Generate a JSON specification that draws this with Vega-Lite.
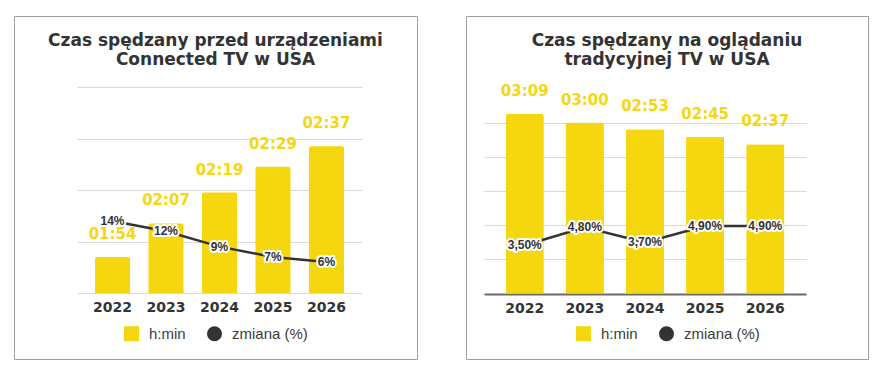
{
  "$schema": "https://vega.github.io/schema/vega-lite/v6.json",
  "padding": {"left": 13, "top": 15, "right": 0, "bottom": 0},
  "background": "white",
  "config": {"view": {"stroke": "#a0a0a0", "strokeWidth": 1}, "concat": {"spacing": 47}},
  "resolve": {"scale": {"color": "independent", "shape": "independent"}, "legend": {"color": "independent", "shape": "independent"}},
  "hconcat": [
    {
      "width": 403,
      "height": 343,
      "title": {"text": ["Czas spędzany przed urządzeniami", "Connected TV w USA"], "font": "DejaVu Sans", "fontWeight": "bold", "fontSize": 17, "color": "#333333", "lineHeight": 19, "anchor": "middle", "offset": -53},
      "data": {"values": [
        {"rok": "2022", "min": 114, "czas": "01:54", "pct": 14, "zmiana": "14%"},
        {"rok": "2023", "min": 127, "czas": "02:07", "pct": 12, "zmiana": "12%"},
        {"rok": "2024", "min": 139, "czas": "02:19", "pct": 9, "zmiana": "9%"},
        {"rok": "2025", "min": 149, "czas": "02:29", "pct": 7, "zmiana": "7%"},
        {"rok": "2026", "min": 157, "czas": "02:37", "pct": 6, "zmiana": "6%"}
      ]},
      "layer": [
        {
          "encoding": {
            "x": {"field": "rok", "type": "nominal", "scale": {"range": [63, 348], "paddingInner": 0.345, "paddingOuter": 0.337}, "axis": {"title": null, "domain": false, "ticks": false, "labelAngle": 0, "offset": -66, "labelPadding": 7, "labelFont": "DejaVu Sans", "labelFontWeight": "bold", "labelFontSize": 14, "labelColor": "#333333"}},
            "y": {"field": "min", "type": "quantitative", "scale": {"domain": [100, 180], "range": [277, 71], "nice": false, "zero": false}, "axis": {"title": null, "labels": false, "ticks": false, "domain": false, "values": [100, 120, 140, 160, 180], "gridColor": "#d9d9d9"}}
          },
          "layer": [
            {"mark": {"type": "bar", "color": "#F5D70F", "cornerRadiusTopLeft": 2, "cornerRadiusTopRight": 2}, "encoding": {"y2": {"datum": 100}}},
            {"mark": {"type": "text", "font": "DejaVu Sans", "fontWeight": "bold", "fontSize": 15, "color": "#F5D70F", "dy": -23, "baseline": "middle"}, "encoding": {"text": {"field": "czas"}}}
          ]
        },
        {
          "encoding": {
            "x": {"field": "rok", "type": "nominal"},
            "y": {"field": "pct", "type": "quantitative", "scale": {"domain": [0, 40], "range": [277, 71], "nice": false}, "axis": null}
          },
          "layer": [
            {"mark": {"type": "line", "color": "#333333", "strokeWidth": 2.5}},
            {"mark": {"type": "text", "font": "Liberation Sans", "fontWeight": "bold", "fontSize": 12, "fill": "white", "stroke": "white", "strokeWidth": 4, "strokeJoin": "round", "baseline": "middle"}, "encoding": {"text": {"field": "zmiana"}}},
            {"mark": {"type": "text", "font": "Liberation Sans", "fontWeight": "bold", "fontSize": 12, "color": "#333333", "baseline": "middle"}, "encoding": {"text": {"field": "zmiana"}}}
          ]
        },
        {
          "data": {"values": [{"seria": "h:min"}, {"seria": "zmiana (%)"}]},
          "mark": {"type": "point", "filled": true, "opacity": 0},
          "encoding": {
            "color": {"field": "seria", "type": "nominal", "scale": {"domain": ["h:min", "zmiana (%)"], "range": ["#F5D70F", "#333333"]}, "legend": {"title": null, "orient": "none", "legendX": 110, "legendY": 310, "direction": "horizontal", "symbolSize": 225, "symbolOpacity": 1, "symbolStrokeWidth": 0, "labelFont": "Liberation Sans", "labelFontSize": 15, "labelColor": "#3c3c3c", "columnPadding": 21, "labelOffset": 10, "padding": 0}},
            "shape": {"field": "seria", "type": "nominal", "scale": {"domain": ["h:min", "zmiana (%)"], "range": ["square", "circle"]}, "legend": {"title": null, "orient": "none", "legendX": 110, "legendY": 310, "direction": "horizontal", "symbolSize": 225, "symbolOpacity": 1, "symbolStrokeWidth": 0, "labelFont": "Liberation Sans", "labelFontSize": 15, "labelColor": "#3c3c3c", "columnPadding": 21, "labelOffset": 10, "padding": 0}}
          }
        }
      ],
      "resolve": {"scale": {"y": "independent"}}
    },
    {
      "width": 402,
      "height": 343,
      "title": {"text": ["Czas spędzany na oglądaniu", "tradycyjnej TV w USA"], "font": "DejaVu Sans", "fontWeight": "bold", "fontSize": 17, "color": "#333333", "lineHeight": 19, "anchor": "middle", "offset": -53},
      "data": {"values": [
        {"rok": "2022", "min": 189, "czas": "03:09", "pct": 3.5, "zmiana": "3,50%"},
        {"rok": "2023", "min": 180, "czas": "03:00", "pct": 4.8, "zmiana": "4,80%"},
        {"rok": "2024", "min": 173, "czas": "02:53", "pct": 3.7, "zmiana": "3,70%"},
        {"rok": "2025", "min": 165, "czas": "02:45", "pct": 4.9, "zmiana": "4,90%"},
        {"rok": "2026", "min": 157, "czas": "02:37", "pct": 4.9, "zmiana": "4,90%"}
      ]},
      "layer": [
        {
          "encoding": {
            "x": {"field": "rok", "type": "nominal", "scale": {"range": [18, 340], "paddingInner": 0.365, "paddingOuter": 0.36}, "axis": {"title": null, "domain": false, "ticks": false, "labelAngle": 0, "offset": -65, "labelPadding": 7, "labelFont": "DejaVu Sans", "labelFontWeight": "bold", "labelFontSize": 14, "labelColor": "#333333"}},
            "y": {"field": "min", "type": "quantitative", "scale": {"domain": [0, 180], "range": [277.5, 106.5], "nice": false}, "axis": {"title": null, "labels": false, "ticks": false, "domain": false, "values": [0, 36, 72, 108, 144, 180], "gridColor": {"condition": {"test": "datum.value === 0", "value": "#6b6b6b"}, "value": "#d9d9d9"}, "gridWidth": {"condition": {"test": "datum.value === 0", "value": 2}, "value": 1}}}
          },
          "layer": [
            {"mark": {"type": "bar", "color": "#F5D70F", "cornerRadiusTopLeft": 2, "cornerRadiusTopRight": 2}},
            {"mark": {"type": "text", "font": "DejaVu Sans", "fontWeight": "bold", "fontSize": 15, "color": "#F5D70F", "dy": -23, "baseline": "middle"}, "encoding": {"text": {"field": "czas"}}}
          ]
        },
        {
          "encoding": {
            "x": {"field": "rok", "type": "nominal"},
            "y": {"field": "pct", "type": "quantitative", "scale": {"domain": [0, 12.4], "range": [277.5, 106.5], "nice": false}, "axis": null}
          },
          "layer": [
            {"mark": {"type": "line", "color": "#333333", "strokeWidth": 2.5}},
            {"mark": {"type": "text", "font": "Liberation Sans", "fontWeight": "bold", "fontSize": 12, "fill": "white", "stroke": "white", "strokeWidth": 4, "strokeJoin": "round", "baseline": "middle"}, "encoding": {"text": {"field": "zmiana"}}},
            {"mark": {"type": "text", "font": "Liberation Sans", "fontWeight": "bold", "fontSize": 12, "color": "#333333", "baseline": "middle"}, "encoding": {"text": {"field": "zmiana"}}}
          ]
        },
        {
          "data": {"values": [{"seria": "h:min"}, {"seria": "zmiana (%)"}]},
          "mark": {"type": "point", "filled": true, "opacity": 0},
          "encoding": {
            "color": {"field": "seria", "type": "nominal", "scale": {"domain": ["h:min", "zmiana (%)"], "range": ["#F5D70F", "#333333"]}, "legend": {"title": null, "orient": "none", "legendX": 110, "legendY": 310, "direction": "horizontal", "symbolSize": 225, "symbolOpacity": 1, "symbolStrokeWidth": 0, "labelFont": "Liberation Sans", "labelFontSize": 15, "labelColor": "#3c3c3c", "columnPadding": 21, "labelOffset": 10, "padding": 0}},
            "shape": {"field": "seria", "type": "nominal", "scale": {"domain": ["h:min", "zmiana (%)"], "range": ["square", "circle"]}, "legend": {"title": null, "orient": "none", "legendX": 110, "legendY": 310, "direction": "horizontal", "symbolSize": 225, "symbolOpacity": 1, "symbolStrokeWidth": 0, "labelFont": "Liberation Sans", "labelFontSize": 15, "labelColor": "#3c3c3c", "columnPadding": 21, "labelOffset": 10, "padding": 0}}
          }
        }
      ],
      "resolve": {"scale": {"y": "independent"}}
    }
  ]
}
